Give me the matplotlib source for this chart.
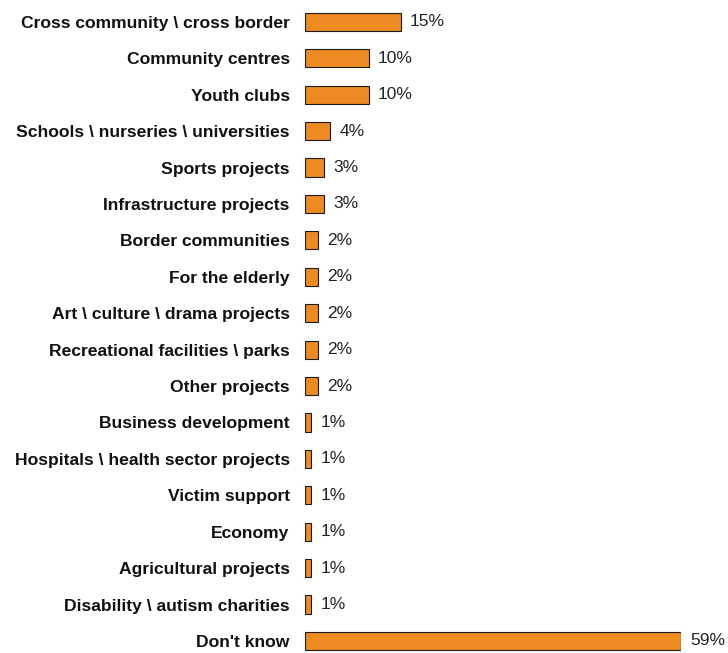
import numpy as np
import matplotlib.pyplot as plt

plt.rcParams['font.family'] = 'Liberation Sans'

categories = [
    'Cross community \\ cross border', 'Community centres', 'Youth clubs',
    'Schools \\ nurseries \\ universities', 'Sports projects',
    'Infrastructure projects', 'Border communities', 'For the elderly',
    'Art \\ culture \\ drama projects', 'Recreational facilities \\ parks',
    'Other projects', 'Business development',
    'Hospitals \\ health sector projects', 'Victim support', 'Economy',
    'Agricultural projects', 'Disability \\ autism charities', "Don't know",
]
values = [15, 10, 10, 4, 3, 3, 2, 2, 2, 2, 2, 1, 1, 1, 1, 1, 1, 59]

fig = plt.figure(figsize=(7.28, 6.53), dpi=100)
ax = fig.add_axes([305 / 728, 0.0, (681 - 305) / 728, 1.0])

y = np.arange(len(categories))
ax.barh(y, values, height=0.5, color='#EE8A22', edgecolor='#1a1a1a', linewidth=0.8)

ax.set_xlim(0, 59)
ax.set_ylim(17.33, -0.6)

# value labels to the right of each bar
for yi, v in zip(y, values):
    ax.annotate(f'{v}%', xy=(v, yi), xytext=(6.5, 0), textcoords='offset points',
                va='center', ha='left', fontsize=12.5, color='#222222',
                annotation_clip=False)

ax.set_yticks(y)
ax.set_yticklabels(categories, fontsize=12.6, fontweight='bold', color='#111111')
ax.tick_params(axis='y', length=0, pad=11)
ax.set_xticks([])
for spine in ax.spines.values():
    spine.set_visible(False)

plt.savefig('out.png', dpi=100)
